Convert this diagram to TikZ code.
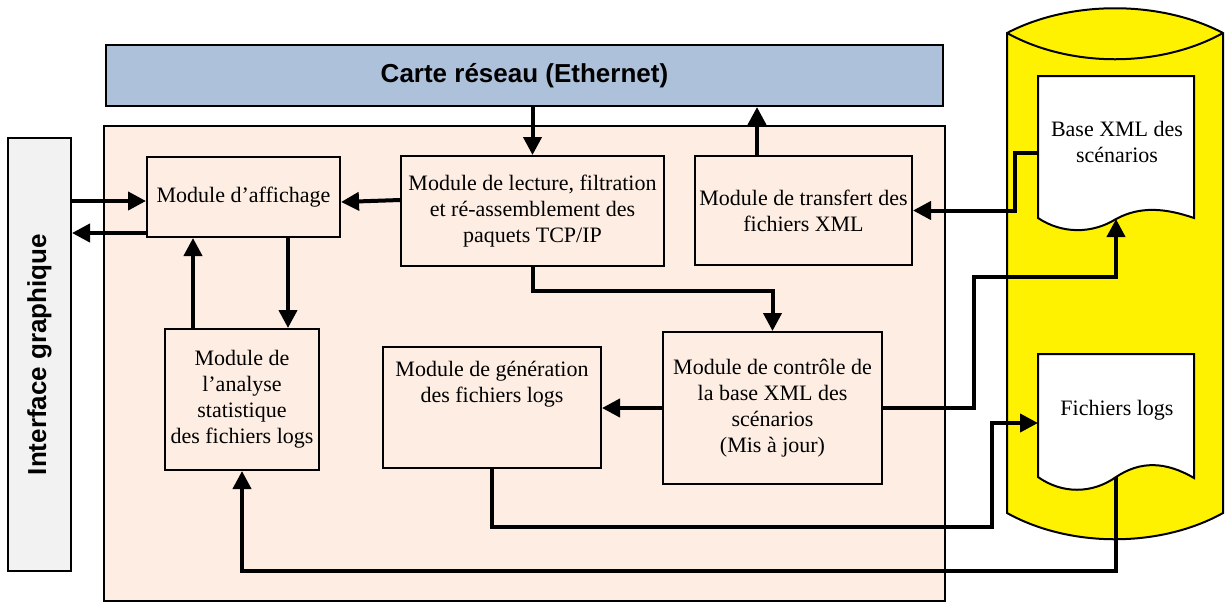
\documentclass[tikz,border=0pt]{standalone}
\usepackage{fontspec}
\setmainfont{Liberation Serif}
\setsansfont{Liberation Sans}
\usetikzlibrary{arrows.meta,positioning}
\definecolor{netblue}{RGB}{173,193,219}
\definecolor{coreclr}{RGB}{253,237,227}
\definecolor{guigray}{RGB}{242,242,242}
\tikzset{
x=0.5pt,
y=-0.5pt,
module/.style={draw,line width=1pt,fill=coreclr,align=center,inner sep=2pt,
  font=\fontsize{11}{13}\selectfont},
bigbar/.style={draw,line width=1pt,inner sep=0pt,font=\sffamily\bfseries\fontsize{13}{15}\selectfont},
flow/.style={-{Triangle[length=9pt,width=9pt]},line width=2pt},
link/.style={line width=2pt},
docshape/.style={draw,line width=1pt,fill=white},
doctext/.style={align=center,font=\fontsize{11}{13}\selectfont}
}

\begin{document}
\begin{tikzpicture}
\useasboundingbox (0,0) rectangle (1225,601);

% blocs principaux
\node[bigbar,fill=netblue,minimum width=418.5pt,minimum height=30.5pt] (carte) at (524.5,75.5) {Carte réseau (Ethernet)};
\node[draw,line width=1pt,fill=coreclr,minimum width=420.5pt,minimum height=237.5pt] (core) at (524.5,363.5) {};
\node[bigbar,fill=guigray,minimum width=31.5pt,minimum height=216.5pt] (iface) at (39.5,354.5) {\rotatebox{90}{Interface graphique}};

% modules
\node[module,minimum width=96.5pt,minimum height=40pt]   (affichage)  at (243.5,197)   {Module d’affichage};
\node[module,minimum width=131.5pt,minimum height=55pt]  (lecture)    at (532.5,211)   {Module de lecture, filtration\\et ré-assemblement des\\paquets TCP/IP};
\node[module,minimum width=108.5pt,minimum height=54.5pt] (transfert) at (803.5,210.5) {Module de transfert des\\fichiers XML};
\node[module,minimum width=77pt,minimum height=70.5pt]   (analyse)    at (242,399.5)   {Module de\\l’analyse\\statistique\\des fichiers logs};
\node[module,minimum width=109pt,minimum height=60.5pt]  (generation) at (492,407.5)   {Module de génération\\des fichiers logs\\[13pt]};
\node[module,minimum width=109.5pt,minimum height=76pt]  (controle)   at (772.5,408)   {Module de contrôle de\\la base XML des\\scénarios\\(Mis à jour)};

% base de donnees
\fill[yellow] (1007,33) -- (1007,513) .. controls (1070,548) and (1160,548) .. (1223,513)
  -- (1223,33) .. controls (1160,0) and (1070,0) .. cycle;
\draw[line width=1pt] (1007,33) -- (1007,513) .. controls (1070,548) and (1160,548) .. (1223,513)
  -- (1223,33) .. controls (1160,0) and (1070,0) .. cycle;
\draw[line width=1pt] (1007,33) .. controls (1070,68) and (1160,68) .. (1223,33);

\draw[docshape] (1038,76) -- (1194,76) -- (1194,218) .. controls (1165,208) and (1140,206) .. (1116,219)
  .. controls (1092,234) and (1062,234) .. (1038,218) -- cycle;
\node[doctext] (xml) at (1117,142) {Base XML des\\scénarios};
\coordinate (xmlleft) at (1038,153);
\coordinate (xmlwave) at (1116,219);

\draw[docshape] (1038,354) -- (1194,354) -- (1194,478) .. controls (1165,461) and (1140,461) .. (1116,477)
  .. controls (1092,494) and (1062,494) .. (1038,477) -- cycle;
\node[doctext] (logs) at (1117,410) {Fichiers logs};
\coordinate (logsleft) at (1038,423);
\coordinate (logswave) at (1116,477);

% connexions
\draw[flow] (iface.east |- 0,201) -- (affichage.west |- 0,201);
\draw[flow] (affichage.west |- 0,233) -- (iface.east |- 0,233);
\draw[flow] (lecture.west |- 0,200) -- (affichage.east |- 0,202);
\draw[flow] (carte.south -| lecture.north) -- (lecture.north);
\draw[flow] (transfert.north -| 757,0) -- (carte.south -| 757,0);
\draw[flow] (analyse.north -| 193,0) -- (affichage.south -| 193,0);
\draw[flow] (affichage.south -| 288,0) -- (analyse.north -| 288,0);
\draw[flow] (lecture.south) -- ++(0,24) -| (controle.north);
\draw[flow] (controle.west) -- (controle.west -| generation.east);
\draw[flow] (controle.east) -- ++(91,0) |- (xmlwave |- 0,277) -- (xmlwave);
\draw[flow] (xmlleft) -- ++(-23,0) |- (transfert.east);
\draw[flow] (generation.south) |- (992,527) |- (logsleft);
\draw[flow] (logswave) |- (analyse.south |- 0,571) -- (analyse.south);
\end{tikzpicture}
\end{document}
